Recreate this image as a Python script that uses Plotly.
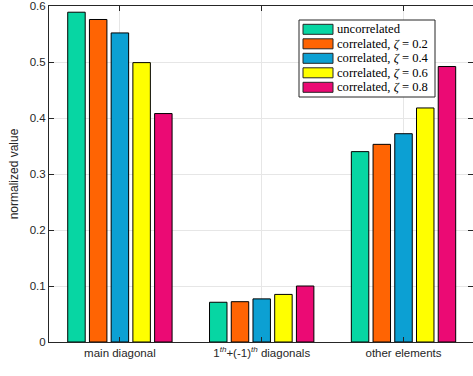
import plotly.graph_objects as go

categories = [
    "main diagonal",
    "1<sup><i>th</i></sup>+(-1)<sup><i>th</i></sup> diagonals",
    "other elements",
]
series_names = [
    "uncorrelated",
    "correlated, <i>ζ</i> = 0.2",
    "correlated, <i>ζ</i> = 0.4",
    "correlated, <i>ζ</i> = 0.6",
    "correlated, <i>ζ</i> = 0.8",
]
uncorrelated = [0.589, 0.071, 0.340]
zeta_02 = [0.576, 0.072, 0.353]
zeta_04 = [0.552, 0.077, 0.372]
zeta_06 = [0.499, 0.085, 0.418]
zeta_08 = [0.408, 0.100, 0.492]
series_values = [uncorrelated, zeta_02, zeta_04, zeta_06, zeta_08]
colors = ["#07D6A3", "#FF6403", "#0CA0D3", "#FFFF00", "#EB0A74"]
y_ticks = [0, 0.1, 0.2, 0.3, 0.4, 0.5, 0.6]

x_pos = [1, 2, 3]
axis_color = "#262626"

W, H = 473, 376
ML, MR, MT, MB = 49, 0, 6, 34
PW, PH = W - ML - MR, H - MT - MB


def px_x(x):
    return (x - ML) / PW


def px_y(y):
    return (H - MB - y) / PH


fig = go.Figure()
for name, vals, col in zip(series_names, series_values, colors):
    fig.add_trace(go.Bar(
        x=x_pos, y=vals, name=name, showlegend=False,
        marker=dict(color=col, line=dict(color="black", width=1)),
    ))

# legend box drawn as shapes + text
shapes = [dict(
    type="rect", xref="paper", yref="paper",
    x0=px_x(299), x1=px_x(435), y0=px_y(97), y1=px_y(20),
    fillcolor="white", line=dict(color=axis_color, width=1), layer="above",
)]
annotations = []
for i, (name, col) in enumerate(zip(series_names, colors)):
    cy = 29.3 + 14.5 * i
    shapes.append(dict(
        type="rect", xref="paper", yref="paper",
        x0=px_x(303), x1=px_x(333), y0=px_y(cy + 5), y1=px_y(cy - 5),
        fillcolor=col, line=dict(color=axis_color, width=1), layer="above",
    ))
    annotations.append(dict(
        xref="paper", yref="paper", x=px_x(335), y=px_y(cy),
        xanchor="left", yanchor="middle", showarrow=False, text=name,
        font=dict(family="Liberation Serif, DejaVu Serif, serif", size=12.6, color="black"),
    ))

fig.update_layout(
    width=W, height=H,
    margin=dict(l=ML, r=MR, t=MT, b=MB),
    paper_bgcolor="white", plot_bgcolor="white",
    barmode="group", bargap=0.234, bargroupgap=0.196,
    font=dict(family="Liberation Sans, Arial, sans-serif", size=11, color=axis_color),
    showlegend=False,
    shapes=shapes, annotations=annotations,
)
fig.update_xaxes(
    range=[0.5, 3.49], tickvals=x_pos, ticktext=categories,
    showgrid=True, gridcolor="#E6E6E6", gridwidth=1,
    showline=True, linecolor=axis_color, linewidth=1, mirror="ticks",
    ticks="inside", ticklen=5, tickcolor=axis_color,
    tickfont=dict(size=11.5, color=axis_color), zeroline=False,
)
fig.update_yaxes(
    range=[0, 0.6001], tickvals=y_ticks,
    showgrid=True, gridcolor="#E6E6E6", gridwidth=1,
    showline=True, linecolor=axis_color, linewidth=1, mirror="ticks",
    ticks="inside", ticklen=5, tickcolor=axis_color,
    tickfont=dict(size=11.5, color=axis_color), zeroline=False,
    title=dict(text="normalized value", font=dict(size=12, color=axis_color), standoff=8),
)

fig.write_html("out.html")
